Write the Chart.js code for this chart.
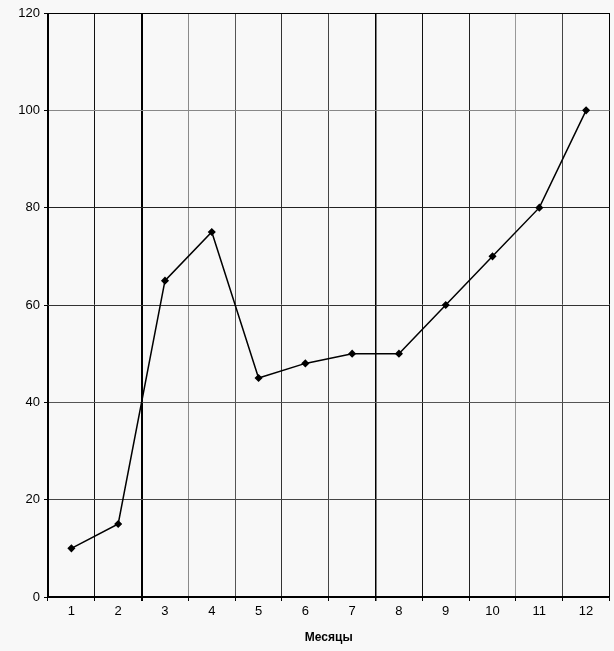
<!DOCTYPE html>
<html>
<head>
<meta charset="utf-8">
<script src="https://cdn.jsdelivr.net/npm/chart.js@4"></script>
<style>
  html, body { margin: 0; padding: 0; background: #f8f8f8; }
  #wrap { width: 614px; height: 651px; }
</style>
</head>
<body>
<div id="wrap"><canvas id="months-chart"></canvas></div>
<script>
const months = ["1", "2", "3", "4", "5", "6", "7", "8", "9", "10", "11", "12"];
const values = [10, 15, 65, 75, 45, 48, 50, 50, 60, 70, 80, 100];
const yTicks = [0, 20, 40, 60, 80, 100, 120];

// grid shades copied loosely from the scanned picture
const vGridColors = ['#000', '#111', '#000', '#8a8a8a', '#555', '#333', '#444', '#000', '#111', '#222', '#999', '#444', '#000'];
const vGridWidths = [1, 1, 2, 1, 1, 1, 1, 1.5, 1, 1, 1, 1, 1];
const hGridColors = { 0: '#000', 20: '#444', 40: '#555', 60: '#333', 80: '#222', 100: '#888', 120: '#000' };

new Chart(document.getElementById("months-chart"), {
    type: 'line',
    data: {
      labels: months,
      datasets: [{
        data: values,
        borderColor: '#000',
        backgroundColor: '#000',
        borderWidth: 1.5,
        pointStyle: 'rectRot',
        pointRadius: 3,
        pointHoverRadius: 3,
        tension: 0
      }]
    },
    options: {
      responsive: true,
      maintainAspectRatio: false,
      animation: false,
      layout: { padding: { top: 13, right: 4, left: 0, bottom: 0 } },
      plugins: {
        legend: { display: false },
        tooltip: { enabled: false }
      },
      scales: {
        x: {
          offset: true,
          grid: {
            offset: true,
            color: ctx => vGridColors[ctx.index] || '#000',
            lineWidth: ctx => vGridWidths[ctx.index] || 1,
            tickLength: 4,
            tickColor: '#000'
          },
          border: { color: '#000', width: 1.5 },
          ticks: {
            color: '#000',
            padding: 3,
            font: { family: 'Liberation Sans', size: 13 },
            maxRotation: 0
          },
          title: {
            display: true,
            text: 'Месяцы',
            color: '#000',
            font: { family: 'Liberation Sans', size: 12, weight: 'bold' },
            padding: { top: 6, bottom: 6 }
          },
          afterFit: scale => { scale.height = 54; }
        },
        y: {
          min: 0,
          max: 120,
          afterBuildTicks: scale => { scale.ticks = yTicks.map(v => ({ value: v })); },
          grid: {
            color: ctx => hGridColors[ctx.tick.value] || '#555',
            lineWidth: 1,
            tickLength: 4,
            tickColor: '#000'
          },
          border: { color: '#000', width: 1 },
          ticks: {
            color: '#000',
            padding: 4,
            font: { family: 'Liberation Sans', size: 13 }
          },
          afterFit: scale => { scale.width = 48; }
        }
      }
    }
});
</script>
</body>
</html>
